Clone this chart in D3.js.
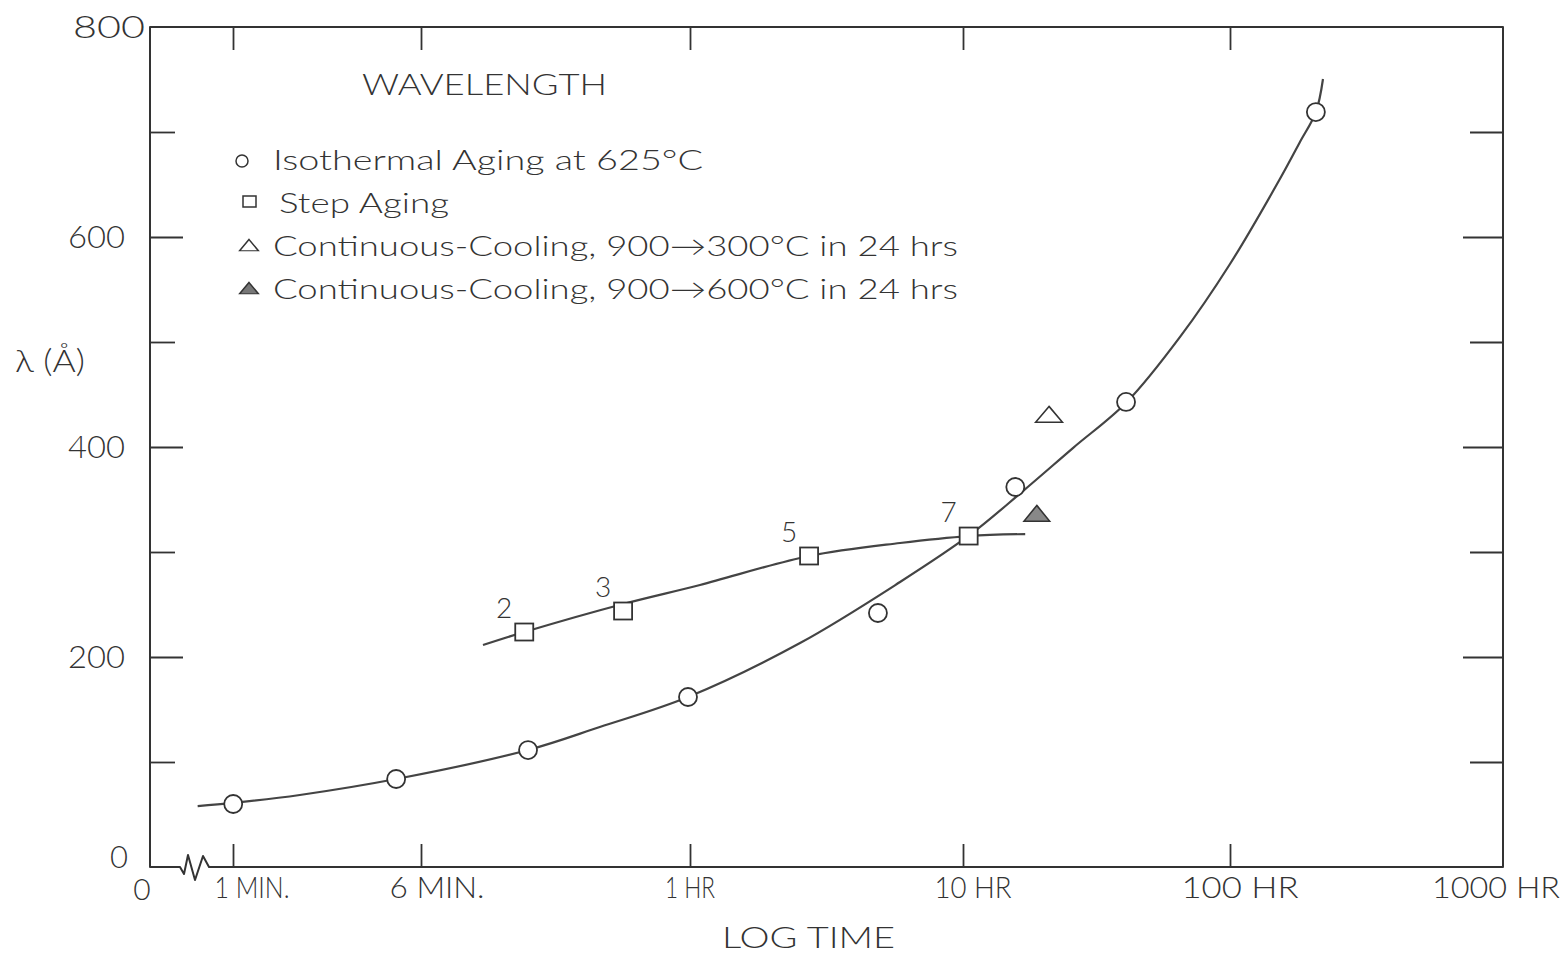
<!DOCTYPE html>
<html>
<head>
<meta charset="utf-8">
<script src="https://cdn.jsdelivr.net/npm/d3@7"></script>
<style>
  html, body { margin: 0; padding: 0; background: #fff; }
  svg text { font-family: Lato, "Open Sans", "DejaVu Sans", sans-serif; font-weight: 300; fill: #333; }
</style>
</head>
<body>
<svg id="chart" width="1568" height="956"></svg>
<script>
// wavelength vs log time (hours)
const W = 1568, H = 956;

// x ticks (hours) and their labels
const TIME_TICKS  = [1/60, 0.1, 1, 10, 100, 1000];
const TIME_LABELS = ['1 MIN.', '6 MIN.', '1 HR', '10 HR', '100 HR', '1000 HR'];
const LAMBDA_TICKS  = [100, 200, 300, 400, 500, 600, 700];
const LAMBDA_LABELS = [0, 200, 400, 600, 800];

// isothermal aging at 625C: measured points
const ISO_T = [0.0167, 0.0789, 0.25, 0.983, 4.88, 15.7, 40.8, 208];
const ISO_L = [60, 83.8, 111.4, 161.9, 241.9, 361.9, 442.9, 719];
// hand drawn curve through them
const ISO_CURVE_T = [0.0119, 0.0167, 0.0315, 0.0789, 0.25, 0.462, 0.983, 2.53, 5.88, 10.6, 16.6, 25.8, 41.1, 65, 100, 153, 181.6, 208, 221];
const ISO_CURVE_L = [58, 61, 68.6, 83.8, 111.4, 133.3, 161.9, 213.3, 271.4, 316.2, 357.1, 399, 442.9, 504.8, 574.3, 655.2, 690.5, 719, 750.5];

// step aging
const STEP_T = [0.242, 0.564, 2.73, 10.5];
const STEP_L = [223.8, 243.8, 296.2, 315.2];
const STEP_NUM = ['2', '3', '5', '7'];
const STEP_CURVE_T = [0.170, 0.242, 0.564, 1.088, 2.73, 5.88, 10.53, 17.1];
const STEP_CURVE_L = [211.4, 223.8, 250.5, 268.6, 296.2, 308.6, 315.2, 317.1];

// continuous cooling
const CC300 = [21.0, 428.6];   // 900 -> 300C in 24 hrs (open)
const CC600 = [18.9, 334.3];   // 900 -> 600C in 24 hrs (filled)

const LEGEND = [
  { sym: 'circle',   text: 'Isothermal  Aging at 625°C' },
  { sym: 'square',   text: 'Step Aging' },
  { sym: 'triangle', text: 'Continuous-Cooling,  900→300°C in 24 hrs' },
  { sym: 'filled',   text: 'Continuous-Cooling,  900→600°C in 24 hrs' },
];

// frame
const L = 150, R = 1503, T = 27, B = 867;
const INK = '#333';

const svg = d3.select('#chart');

// hand drawn tick spacing is not quite even, so the log scale is piecewise
const x = d3.scaleLog().domain(TIME_TICKS).range([233, 421, 690, 963, 1230, 1500]);
const y = d3.scaleLinear().domain([0, 800]).range([B, T]);

function fit(sel, w) {
  return sel.attr('textLength', w).attr('lengthAdjust', 'spacingAndGlyphs');
}

// ---- frame with axis break ----
const br = d3.path();
br.moveTo(L, T); br.lineTo(L, B); br.lineTo(180, B);
br.lineTo(184, B + 7); br.lineTo(188, B - 12); br.lineTo(195, B + 13);
br.lineTo(203, B - 11); br.lineTo(209, B); br.lineTo(R, B);
br.lineTo(R, T); br.closePath();
svg.append('path').attr('d', br.toString())
  .attr('fill', 'none').attr('stroke', INK).attr('stroke-width', 2).attr('stroke-linejoin', 'round');

// ---- axes ----
function styleAxis(g) {
  g.select('.domain').remove();
  g.selectAll('.tick line').attr('stroke', INK).attr('stroke-width', 1.8);
}

const xb = svg.append('g').attr('transform', `translate(0,${B})`)
  .call(d3.axisBottom(x).tickValues(TIME_TICKS.slice(0, 5)).tickSizeInner(-23).tickFormat(''));
styleAxis(xb);
svg.append('g').attr('transform', `translate(0,${T})`)
  .call(d3.axisTop(x).tickValues(TIME_TICKS.slice(0, 5)).tickSizeInner(-23).tickFormat(''))
  .call(styleAxis);

// x labels
const xLabelW = [75, 95, 50, 77, 117, 128];
svg.append('g').selectAll('text').data(TIME_TICKS).join('text')
  .attr('x', (d, i) => x(d) + (i === 0 ? 19 : i === 1 ? 16 : i === 5 ? -4 : i === 2 ? 0 : 10))
  .attr('y', 898)
  .attr('text-anchor', 'middle')
  .attr('font-size', 30)
  .text((d, i) => TIME_LABELS[i])
  .each(function(d, i) { fit(d3.select(this), xLabelW[i]); });

// "0" at origin of time axis
svg.append('text').attr('x', 142).attr('y', 900).attr('text-anchor', 'middle')
  .attr('font-size', 30).text('0');

const yl = svg.append('g').attr('transform', `translate(${L},0)`)
  .call(d3.axisLeft(y).tickValues(LAMBDA_TICKS).tickSizeInner(0).tickFormat(''));
yl.selectAll('.tick line').attr('x2', d => d % 200 === 0 ? 33 : 25);
styleAxis(yl);
const yr = svg.append('g').attr('transform', `translate(${R},0)`)
  .call(d3.axisRight(y).tickValues(LAMBDA_TICKS).tickSizeInner(0).tickFormat(''));
yr.selectAll('.tick line').attr('x2', d => d % 200 === 0 ? -40 : -33);
styleAxis(yr);

// y labels
svg.append('g').selectAll('text').data(LAMBDA_LABELS).join('text')
  .attr('x', d => d === 800 ? 145 : d === 0 ? 128 : 125)
  .attr('y', d => y(d) + (d === 0 ? 1 : 11))
  .attr('text-anchor', 'end')
  .attr('font-size', 31)
  .text(d => d)
  .each(function(d) { if (d > 0) fit(d3.select(this), d === 800 ? 72 : 57); });

// axis titles
fit(svg.append('text').attr('x', 722).attr('y', 948).attr('font-size', 30).text('LOG TIME'), 173);
fit(svg.append('text').attr('x', 15).attr('y', 372).attr('font-size', 31).text('λ (Å)'), 70);

// ---- curves ----
const line = d3.line().x(d => x(d[0])).y(d => y(d[1])).curve(d3.curveCatmullRom.alpha(0.5));
svg.append('path').datum(d3.zip(ISO_CURVE_T, ISO_CURVE_L))
  .attr('d', line).attr('fill', 'none').attr('stroke', '#444').attr('stroke-width', 2.2);
svg.append('path').datum(d3.zip(STEP_CURVE_T, STEP_CURVE_L))
  .attr('d', line).attr('fill', 'none').attr('stroke', '#444').attr('stroke-width', 2.2);

// ---- markers ----
const tri = d3.symbol().type(d3.symbolTriangle).size(200);

svg.append('g').selectAll('circle').data(d3.zip(ISO_T, ISO_L)).join('circle')
  .attr('cx', d => x(d[0])).attr('cy', d => y(d[1]))
  .attr('r', 9).attr('fill', '#fff').attr('stroke', INK).attr('stroke-width', 1.8);

svg.append('g').selectAll('rect').data(d3.zip(STEP_T, STEP_L)).join('rect')
  .attr('x', d => x(d[0]) - 9).attr('y', d => y(d[1]) - 8.5)
  .attr('width', 18).attr('height', 17)
  .attr('fill', '#fff').attr('stroke', INK).attr('stroke-width', 1.8);

svg.append('g').selectAll('text').data(d3.zip(STEP_T, STEP_L, STEP_NUM)).join('text')
  .attr('x', d => x(d[0]) - 20).attr('y', d => y(d[1]) - 14)
  .attr('text-anchor', 'middle').attr('font-size', 28)
  .text(d => d[2]);

svg.append('path').attr('d', tri)
  .attr('transform', `translate(${x(CC300[0])},${y(CC300[1])}) scale(1.25,0.85)`)
  .attr('fill', '#fff').attr('stroke', INK).attr('stroke-width', 1.5);
svg.append('path').attr('d', tri)
  .attr('transform', `translate(${x(CC600[0])},${y(CC600[1])}) scale(1.2,0.85)`)
  .attr('fill', '#888').attr('stroke', INK).attr('stroke-width', 1.5);

// ---- legend ----
fit(svg.append('text').attr('x', 362).attr('y', 95).attr('font-size', 29).text('WAVELENGTH'), 245);

const legW = [430, 170, 685, 685];
const lg = svg.append('g').selectAll('g').data(LEGEND).join('g')
  .attr('transform', (d, i) => `translate(0,${170 + i * 43})`);
lg.each(function(d, i) {
  const g = d3.select(this);
  if (d.sym === 'circle') {
    g.append('circle').attr('cx', 242).attr('cy', -9).attr('r', 6)
      .attr('fill', 'none').attr('stroke', INK).attr('stroke-width', 1.5);
  } else if (d.sym === 'square') {
    g.append('rect').attr('x', 243).attr('y', -17).attr('width', 13).attr('height', 11)
      .attr('fill', 'none').attr('stroke', INK).attr('stroke-width', 1.5);
  } else {
    g.append('path').attr('d', d3.symbol().type(d3.symbolTriangle).size(90))
      .attr('transform', 'translate(249,-9) scale(1.3,0.9)')
      .attr('fill', d.sym === 'filled' ? '#777' : 'none')
      .attr('stroke', INK).attr('stroke-width', 1.3);
  }
  fit(g.append('text').attr('x', d.sym === 'square' ? 279 : 273).attr('y', 0)
    .attr('font-size', 28).text(d.text), legW[i]);
});
</script>
</body>
</html>
